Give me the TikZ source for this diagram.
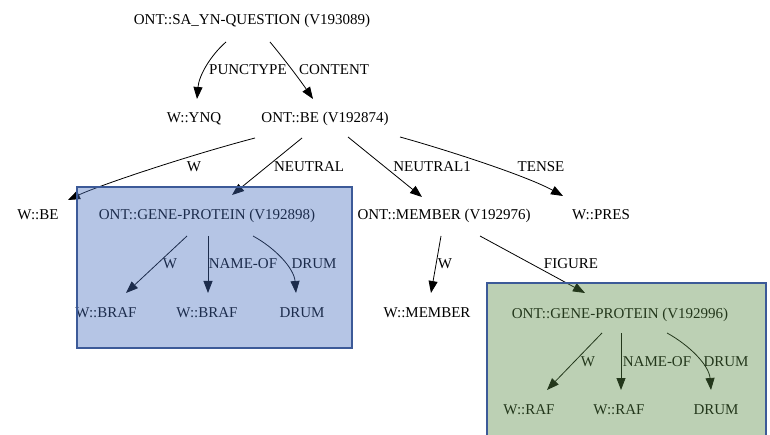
\documentclass[tikz,border=0pt]{standalone}
\usepackage{fontspec}
\setmainfont{Liberation Serif}
\usetikzlibrary{arrows.meta}
\definecolor{frameblue}{RGB}{60,90,152}
\definecolor{groupblue}{RGB}{70,110,190}
\definecolor{groupgreen}{RGB}{88,138,68}
\begin{document}
\begin{tikzpicture}[x=1pt,y=-1pt,
  every node/.style={font=\fontsize{15}{18}\selectfont, inner sep=0pt,
    text height=10pt, text depth=0pt, anchor=center},
  term/.style={},
  lbl/.style={},
  edge/.style={line width=0.8pt, -{Triangle[length=12pt,width=9pt]}},
  group/.style={draw=frameblue, line width=2.3pt, fill opacity=0.4}]
\useasboundingbox (0,0) rectangle (770,435);

% terms
\node[term] (root)  at (252,20)  {ONT::SA\_YN-QUESTION (V193089)};
\node[term] (ynq)   at (194,118) {W::YNQ};
\node[term] (be)    at (325,118) {ONT::BE (V192874)};
\node[term] (wbe)   at (38,215)  {W::BE};
\node[term] (gpa)   at (207,215) {ONT::GENE-PROTEIN (V192898)};
\node[term] (mem)   at (444,215) {ONT::MEMBER (V192976)};
\node[term] (pres)  at (601,215) {W::PRES};
\node[term] (brafa) at (106,312) {W::BRAF};
\node[term] (brafb) at (207,312) {W::BRAF};
\node[term] (druma) at (302,312) {DRUM};
\node[term] (wmem)  at (427,312) {W::MEMBER};
\node[term] (gpb)   at (620,313) {ONT::GENE-PROTEIN (V192996)};
\node[term] (rafa)  at (529,409) {W::RAF};
\node[term] (rafb)  at (619,409) {W::RAF};
\node[term] (drumb) at (716,409) {DRUM};

% role labels
\node[lbl] (l1)  at (248,70)  {PUNCTYPE};
\node[lbl] (l2)  at (334,70)  {CONTENT};
\node[lbl] (l3)  at (194,167) {W};
\node[lbl] (l4)  at (309,167) {NEUTRAL};
\node[lbl] (l5)  at (432,167) {NEUTRAL1};
\node[lbl] (l6)  at (541,167) {TENSE};
\node[lbl] (l7)  at (170,264) {W};
\node[lbl] (l8)  at (243,264) {NAME-OF};
\node[lbl] (l9)  at (314,264) {DRUM};
\node[lbl] (l10) at (445,264) {W};
\node[lbl] (l11) at (571,264) {FIGURE};
\node[lbl] (l12) at (588,361) {W};
\node[lbl] (l13) at (657,361) {NAME-OF};
\node[lbl] (l14) at (726,361) {DRUM};

% role edges
\draw[edge] ([shift={(-26,22)}]root.center) .. controls +(-15,13) and +(2,-24) .. ([shift={(3,-19)}]ynq.center);
\draw[edge] ([shift={(18,22)}]root.center) .. controls +(15,18) and +(-13,-19) .. ([shift={(-12,-19)}]be.center);
\draw[edge] ([shift={(-70,20)}]be.center) .. controls +(-65,17) and +(32,-15) .. ([shift={(30,-15)}]wbe.center);
\draw[edge] ([shift={(-23,20)}]be.center) -- ([shift={(25,-20)}]gpa.center);
\draw[edge] ([shift={(23,19)}]be.center) -- ([shift={(-22,-18)}]mem.center);
\draw[edge] ([shift={(75,19)}]be.center) .. controls +(40,11) and +(-38,-21) .. ([shift={(-38,-19)}]pres.center);
\draw[edge] ([shift={(-20,21)}]gpa.center) -- ([shift={(20,-19)}]brafa.center);
\draw[edge] ([shift={(1,21)}]gpa.center) -- ([shift={(1,-19)}]brafb.center);
\draw[edge] ([shift={(46,21)}]gpa.center) .. controls +(22,12) and +(-2,-25) .. ([shift={(-6,-19)}]druma.center);
\draw[edge] ([shift={(-3,21)}]mem.center) -- ([shift={(4,-19)}]wmem.center);
\draw[edge] ([shift={(36,21)}]mem.center) -- ([shift={(-35,-20)}]gpb.center);
\draw[edge] ([shift={(-18,20)}]gpb.center) -- ([shift={(18,-19)}]rafa.center);
\draw[edge] ([shift={(1,20)}]gpb.center) -- ([shift={(2,-19)}]rafb.center);
\draw[edge] ([shift={(47,20)}]gpb.center) .. controls +(22,12) and +(-2,-25) .. ([shift={(-5,-19)}]drumb.center);

% translucent group frames laid over their members
\draw[group, fill=groupblue] (77,187) rectangle (352,348);
\draw[group, fill=groupgreen] (487,283) rectangle (766,440);
\end{tikzpicture}
\end{document}
